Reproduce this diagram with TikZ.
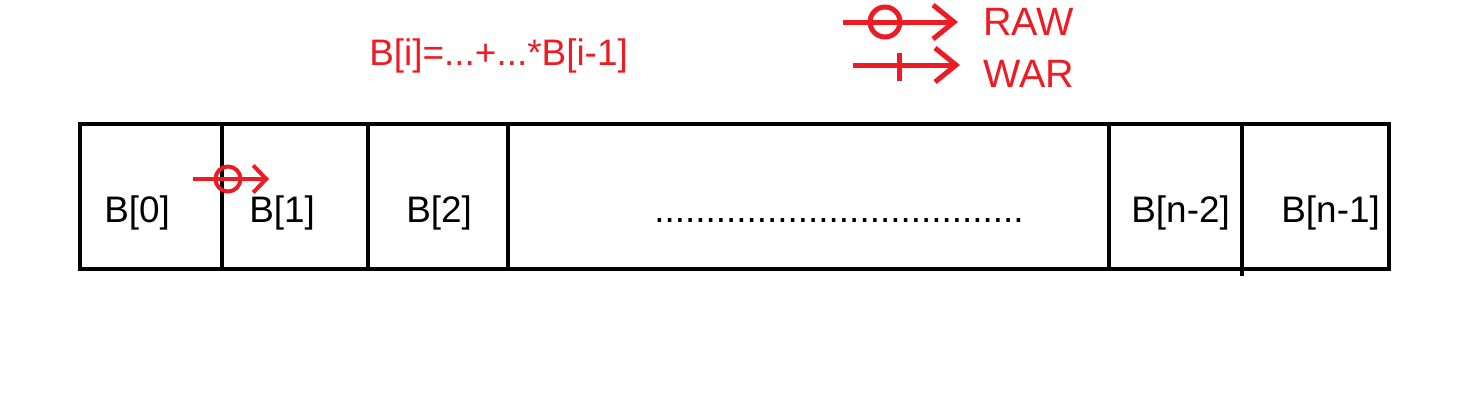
\documentclass[tikz,border=0pt]{standalone}
\usepackage{fontspec}
\setmainfont{Liberation Sans}
\usetikzlibrary{arrows.meta}
\definecolor{paintred}{RGB}{237,28,36}
\begin{document}
\begin{tikzpicture}[x=0.02cm,y=-0.02cm,
  every node/.style={font=\fontsize{21}{25}\selectfont,inner sep=0pt,anchor=base west},
  wall/.style={line width=0.08cm,black},
  redtxt/.style={text=paintred},
  dep/.style={line width=0.1cm,paintred,-{Straight Barb[length=0.42cm,width=0.68cm]}}]
\useasboundingbox (0,0) rectangle (1476,416);
% the array B as a row of cells
\draw[wall] (80,124) rectangle (1389,269);
\foreach \xd in {222,368,508,1109} {
  \draw[wall] (\xd,124)--(\xd,269);
}
\draw[wall] (1242,124)--(1242,276);
\node (b0) at (104,222) {B[0]};
\node (b1) at (249,222) {B[1]};
\node (b2) at (406,222) {B[2]};
\node (dots) at (654,222) {....................................};
\node (bn2) at (1131,222) {B[n-2]};
\node (bn1) at (1281,222) {B[n-1]};
% recurrence
\node[redtxt] (rec) at (369,65) {B[i]=...+...*B[i-1]};
% legend
\coordinate (rawS) at (843,22);  \coordinate (rawE) at (958,22);
\coordinate (warS) at (853,65);  \coordinate (warE) at (960,65);
\draw[dep] (rawS) -- (rawE);
\draw[line width=0.1cm,paintred] (885,22) circle[radius=0.3cm];
\draw[dep] (warS) -- (warE);
\draw[line width=0.1cm,paintred] (899,53) -- (899,81);
\node[redtxt,font=\fontsize{22.5}{26}\selectfont] (raw) at (983,35) {RAW};
\node[redtxt,font=\fontsize{22.5}{26}\selectfont] (war) at (983,87) {WAR};
% RAW dependence from B[0] to B[1]
\coordinate (depS) at (193,179); \coordinate (depE) at (269,179);
\draw[line width=0.08cm,paintred,-{Straight Barb[length=0.26cm,width=0.54cm]}] (depS) -- (depE);
\draw[line width=0.08cm,paintred] (228,179) circle[radius=0.25cm];
\end{tikzpicture}
\end{document}
